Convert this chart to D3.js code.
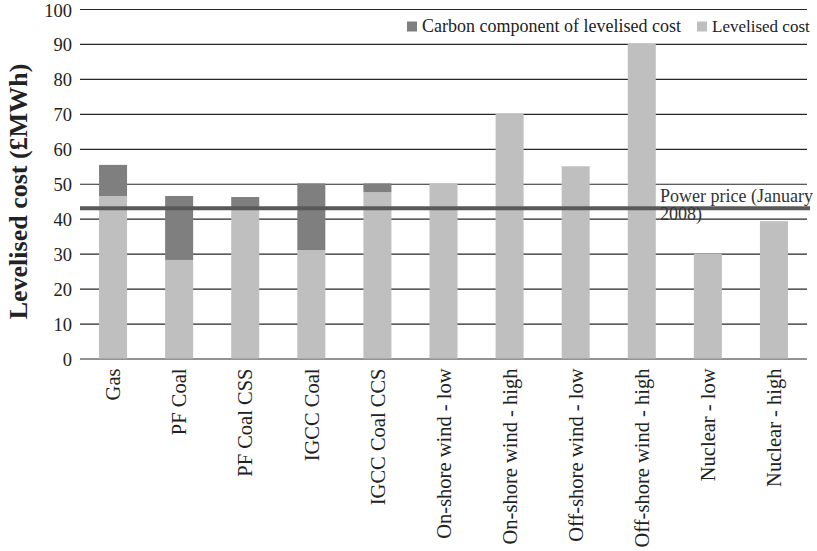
<!DOCTYPE html>
<html>
<head>
<meta charset="utf-8">
<script src="https://cdn.jsdelivr.net/npm/d3@7"></script>
<style>
  html, body { margin: 0; padding: 0; background: #fff; }
  svg { display: block; font-family: "Liberation Serif", "DejaVu Serif", serif; }
</style>
</head>
<body>
<svg id="chart" width="817" height="551"></svg>
<script>
// Levelised cost of electricity by technology (£/MWh)
const categories = [
  "Gas", "PF Coal", "PF Coal CSS", "IGCC Coal", "IGCC Coal CCS",
  "On-shore wind - low", "On-shore wind - high", "Off-shore wind - low",
  "Off-shore wind - high", "Nuclear - low", "Nuclear - high"
];
const levelisedCost = [46.5, 28.2, 42.5, 31.0, 47.6, 50, 70, 55, 90, 30, 39.3];
const carbonComponent = [8.9, 18.3, 3.7, 19.1, 2.5, 0, 0, 0, 0, 0, 0];
const powerPrice = 43;
const yTicks = [0, 10, 20, 30, 40, 50, 60, 70, 80, 90, 100];
const seriesNames = ["Carbon component of levelised cost", "Levelised cost"];
const seriesColors = ["#7f7f7f", "#bfbfbf"];

const svg = d3.select("#chart");
const plotLeft = 80, plotRight = 807, plotTop = 9, plotBottom = 358.5;

const x = d3.scaleBand().domain(categories).range([plotLeft, plotRight])
  .paddingInner(0.576).paddingOuter(0.288);
const y = d3.scaleLinear().domain([0, 100]).range([plotBottom, plotTop]);

// horizontal gridlines and tick labels
const yAxis = d3.axisLeft(y).tickValues(yTicks).tickSize(-(plotRight - plotLeft)).tickPadding(8);
const gy = svg.append("g").attr("transform", `translate(${plotLeft},0)`).call(yAxis);
gy.select(".domain").remove();
gy.selectAll(".tick line").attr("stroke", "#262626").attr("stroke-width", 1.2);
gy.selectAll(".tick text")
  .attr("font-family", "Liberation Serif")
  .attr("font-size", 18.5).attr("fill", "#222")
  .attr("dy", "0.38em");

// stacked bars: levelised cost at the base, carbon component on top
const rows = categories.map((c, i) => ({ c, base: levelisedCost[i], carbon: carbonComponent[i] }));
const bars = svg.append("g");
bars.selectAll("rect.base").data(rows).join("rect")
  .attr("class", "base")
  .attr("x", d => x(d.c)).attr("width", x.bandwidth())
  .attr("y", d => y(d.base)).attr("height", d => y(0) - y(d.base))
  .attr("fill", seriesColors[1]);
bars.selectAll("rect.carbon").data(rows.filter(d => d.carbon > 0)).join("rect")
  .attr("class", "carbon")
  .attr("x", d => x(d.c)).attr("width", x.bandwidth())
  .attr("y", d => y(d.base + d.carbon)).attr("height", d => y(d.base) - y(d.base + d.carbon))
  .attr("fill", seriesColors[0]);

// category labels, rotated
const xAxis = d3.axisBottom(x).tickSize(0).tickPadding(0);
const gx = svg.append("g").attr("transform", `translate(0,${plotBottom})`).call(xAxis);
gx.select(".domain").remove();
gx.selectAll(".tick text")
  .attr("font-family", "Liberation Serif")
  .attr("font-size", 20.5).attr("fill", "#222")
  .attr("text-anchor", "end")
  .attr("transform", "rotate(-90)")
  .attr("x", -10).attr("y", 0).attr("dy", "0.35em");

// power price reference line
svg.append("line")
  .attr("x1", plotLeft).attr("x2", 810)
  .attr("y1", y(powerPrice)).attr("y2", y(powerPrice))
  .attr("stroke", "#595959").attr("stroke-width", 4);
const pp = svg.append("text")
  .attr("font-size", 18).attr("fill", "#333");
pp.append("tspan").attr("x", 660).attr("y", 202).text("Power price (January");
pp.append("tspan").attr("x", 660).attr("y", 219.5).text("2008)");

// y-axis title
svg.append("text")
  .attr("transform", `translate(27,191.5) rotate(-90)`)
  .attr("text-anchor", "middle")
  .attr("font-size", 26).attr("font-weight", "bold").attr("fill", "#222")
  .text("Levelised cost (£MWh)");

// legend
const legendItems = [
  { name: seriesNames[0], color: seriesColors[0], x: 407 },
  { name: seriesNames[1], color: seriesColors[1], x: 697 }
];
const lg = svg.append("g");
legendItems.forEach(it => {
  lg.append("rect").attr("x", it.x).attr("y", 21.5).attr("width", 10).attr("height", 10).attr("fill", it.color);
  lg.append("text").attr("x", it.x + 15).attr("y", 32)
    .attr("font-size", it.x < 500 ? 18 : 17).attr("fill", "#222").text(it.name);
});
</script>
</body>
</html>
